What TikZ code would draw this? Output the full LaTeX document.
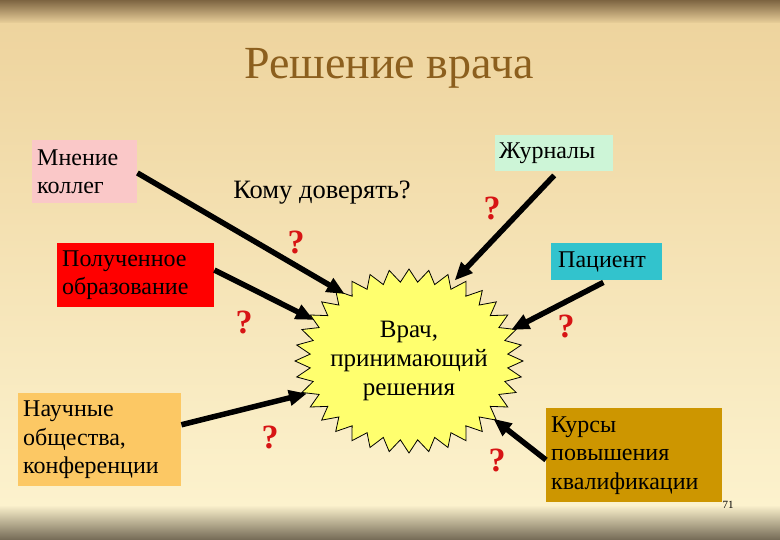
\documentclass[tikz,border=0pt]{standalone}
\usepackage{fontspec}
\setmainfont{Liberation Serif}
\usetikzlibrary{arrows.meta,calc}
\definecolor{bgtop}{RGB}{238,212,158}
\definecolor{bgmid}{RGB}{246,228,178}
\definecolor{bgbot}{RGB}{252,242,205}
\definecolor{banddark}{RGB}{125,100,65}
\definecolor{bandbot}{RGB}{115,105,85}
\definecolor{titlebrown}{RGB}{140,95,30}
\definecolor{cpink}{RGB}{250,200,200}
\definecolor{cmint}{RGB}{205,245,215}
\definecolor{cred}{RGB}{255,0,0}
\definecolor{ccyan}{RGB}{50,195,205}
\definecolor{corange}{RGB}{252,200,100}
\definecolor{cgold}{RGB}{205,150,0}
\definecolor{cstar}{RGB}{255,255,110}
\definecolor{qred}{RGB}{215,20,20}
\tikzset{
  boxnode/.style={anchor=north west, inner xsep=5pt, inner ysep=2pt, align=left,
    font=\fontsize{24}{28.5}\selectfont, text=black},
  qmark/.style={font=\fontsize{34}{34}\selectfont\bfseries, text=qred, inner sep=0pt},
  bigarrow/.style={line width=5.5pt, black, -{Triangle[length=18pt,width=15pt]}, shorten >=-2pt}
}
\begin{document}
\begin{tikzpicture}[x=1pt,y=-1pt]
\useasboundingbox (0,0) rectangle (780,540);
% background
\shade[top color=banddark, bottom color=bgtop] (0,0) rectangle (780,24);
\shade[top color=bgtop, bottom color=bgbot] (0,24) rectangle (780,505);
\shade[top color=bgbot, bottom color=bandbot] (0,505) rectangle (780,540);
% title
\node[font=\fontsize{46}{46}\selectfont, text=titlebrown] (title) at (389,68) {Решение врача};
% starburst
\coordinate (sc) at (409,361);
\filldraw[fill=cstar, draw=black, line width=0.8pt]
  plot[domain=0:71, samples=72] ({409+114*(1-0.13*mod(\x,2))*cos(\x*5)}, {361+92*(1-0.14*mod(\x,2))*sin(\x*5)}) -- cycle;
\node[align=center, font=\fontsize{25}{29}\selectfont] (vrach) at (409,361) {Врач,\\принимающий\\решения};
% boxes
\node[boxnode, fill=cpink, minimum width=105pt, minimum height=63pt, text width=95pt] (mnenie) at (32,140) {Мнение\\коллег};
\node[boxnode, fill=cred, minimum width=157pt, minimum height=64pt, text width=147pt] (obraz) at (57,243) {Полученное\\образование};
\node[boxnode, fill=corange, minimum width=163pt, minimum height=93pt, text width=153pt] (nauch) at (18,393) {Научные\\общества,\\конференции};
\node[boxnode, fill=cmint, minimum width=118pt, minimum height=36pt, text width=110pt, inner xsep=4pt] (zhurn) at (495,135) {Журналы};
\node[boxnode, fill=ccyan, minimum width=111pt, minimum height=37pt, text width=97pt, inner xsep=7pt] (pac) at (551,243) {Пациент};
\node[boxnode, fill=cgold, minimum width=176pt, minimum height=94pt, text width=166pt] (kurs) at (546,408) {Курсы\\повышения\\квалификации};
\node[font=\fontsize{26.5}{28}\selectfont] (komu) at (322,193) {Кому доверять?};
\node[font=\fontsize{11}{11}\selectfont] (num) at (728,505) {71};
% question marks
\node[qmark] (q1) at (492,208) {?};
\node[qmark] (q2) at (296,242) {?};
\node[qmark] (q3) at (244,322) {?};
\node[qmark] (q4) at (566,326) {?};
\node[qmark] (q5) at (270,437) {?};
\node[qmark] (q6) at (497,460) {?};
% arrow tips on starburst
\coordinate (t1) at (343,293);
\coordinate (t2) at (312,319);
\coordinate (t3) at (305,394);
\coordinate (t4) at (456,279);
\coordinate (t5) at (513,329);
\coordinate (t6) at (495,420);
% arrows
\draw[bigarrow] ($(mnenie.north east)!0.52!(mnenie.south east)$) -- (t1);
\draw[bigarrow] ($(obraz.north east)!0.42!(obraz.south east)$) -- (t2);
\draw[bigarrow] ($(nauch.north east)!0.34!(nauch.south east)$) -- (t3);
\draw[bigarrow] ($(zhurn.south west)!0.5!(zhurn.south east)+(0,4)$) -- (t4);
\draw[bigarrow] ($(pac.south west)!0.47!(pac.south east)+(0,2)$) -- (t5);
\draw[bigarrow] ($(kurs.north west)!0.55!(kurs.south west)$) -- (t6);
\end{tikzpicture}
\end{document}
